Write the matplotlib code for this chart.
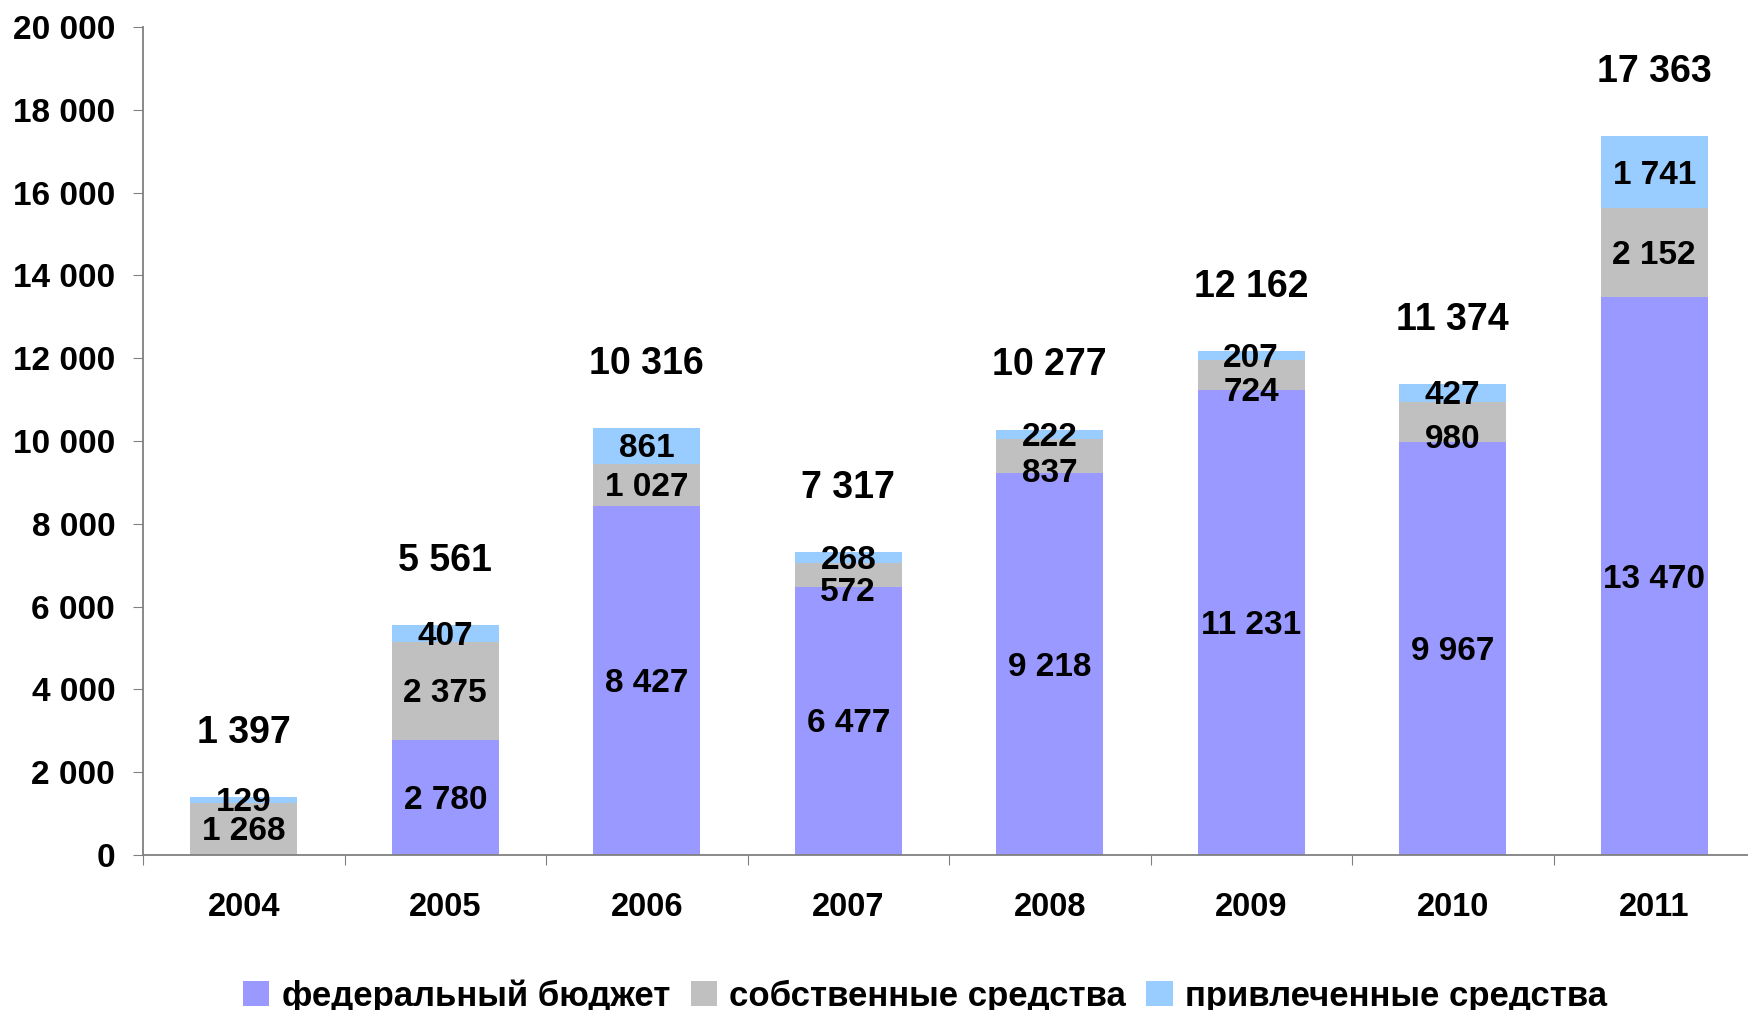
import numpy as np
import matplotlib.pyplot as plt

years = ['2004', '2005', '2006', '2007', '2008', '2009', '2010', '2011']
federal = [0, 2780, 8427, 6477, 9218, 11231, 9967, 13470]
own = [1268, 2375, 1027, 572, 837, 724, 980, 2152]
attracted = [129, 407, 861, 268, 222, 207, 427, 1741]
totals = [1397, 5561, 10316, 7317, 10277, 12162, 11374, 17363]

names = ['федеральный бюджет', 'собственные средства', 'привлеченные средства']
colors = ['#9999FF', '#C0C0C0', '#99CCFF']

plt.rcParams['font.family'] = ['Liberation Sans', 'DejaVu Sans']
plt.rcParams['font.weight'] = 'bold'


def fmt(v):
    return f'{v:,}'.replace(',', ' ')


fig = plt.figure(figsize=(17.48, 10.10), dpi=100)
ax = fig.add_axes([143 / 1748, 155 / 1010, 1612 / 1748, 828 / 1010])

x = np.arange(len(years))
w = 0.53
bottom = np.zeros(len(years))
for k, (vals, name, c) in enumerate(zip([federal, own, attracted], names, colors)):
    vals = np.array(vals)
    ax.bar(x, vals, w, bottom=bottom, color=c, label=name)
    for xi, b, v in zip(x, bottom, vals):
        if v <= 0:
            continue
        y = b + v / 2 - 70
        # small middle segments: label pushed down, away from the top one
        if k == 1 and v < 1000:
            y -= 360
        ax.text(xi, y, fmt(v), ha='center', va='center',
                fontsize=24, fontweight='bold')
    bottom += vals

for xi, t in zip(x, totals):
    ax.text(xi, t + 1550, fmt(t), ha='center', va='center',
            fontsize=27, fontweight='bold')

ax.set_xlim(-0.5, 7.5)
ax.set_ylim(0, 20000)
ax.set_yticks(np.arange(0, 20001, 2000))
ax.set_yticklabels([fmt(v) for v in range(0, 20001, 2000)], fontsize=24, fontweight='bold')
ax.set_xticks(np.arange(-0.5, 8, 1))
ax.set_xticklabels([])
ax.set_xticks(x, minor=True)
ax.set_xticklabels(years, minor=True, fontsize=23.5, fontweight='bold')
ax.tick_params(axis='x', which='major', direction='out', length=7, color='#808080')
ax.tick_params(axis='x', which='minor', length=0, pad=27)
ax.tick_params(axis='y', direction='out', length=7, color='#808080', pad=13)
for s in ['top', 'right']:
    ax.spines[s].set_visible(False)
for s in ['left', 'bottom']:
    ax.spines[s].set_color('#808080')
    ax.spines[s].set_linewidth(1.3)

fig.legend(loc='center', bbox_to_anchor=(925 / 1748, 14 / 1010), ncol=3,
           frameon=False, handlelength=0.75, handleheight=0.75,
           handletextpad=0.35, columnspacing=0.6,
           prop={'size': 25, 'weight': 'bold'})

plt.savefig('out.png', dpi=100)
